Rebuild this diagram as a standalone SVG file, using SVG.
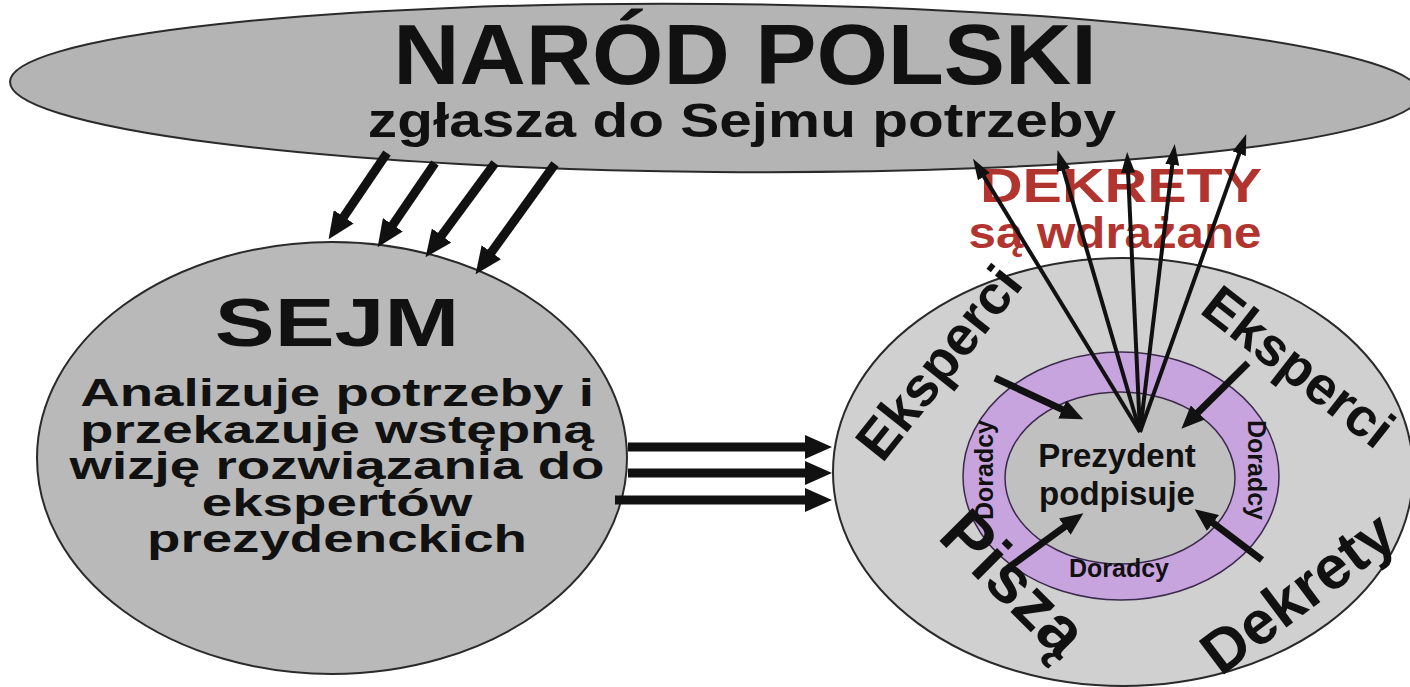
<svg xmlns="http://www.w3.org/2000/svg" width="1410" height="687" viewBox="0 0 1410 687">
  <style>
    .t { font-family: "Liberation Sans", Arial, sans-serif; font-weight: bold; fill: #111; text-anchor: middle; }
    .red { fill: #b2342e; }
    .shape { stroke: #2a2a2a; stroke-width: 2; }
    .thick { stroke: #111; stroke-width: 9; fill: none; marker-end: url(#ahBig); }
    .mid { stroke: #111; stroke-width: 7; fill: none; marker-end: url(#ahMid); }
    .thin { stroke: #111; stroke-width: 4; fill: none; marker-end: url(#ahThin); }
  </style>
  <defs>
    <marker id="ahBig" markerUnits="userSpaceOnUse" markerWidth="28" markerHeight="24" refX="2" refY="12" orient="auto">
      <path d="M0,0 L27,12 L0,24 z" fill="#111"/>
    </marker>
    <marker id="ahMid" markerUnits="userSpaceOnUse" markerWidth="24" markerHeight="20" refX="2" refY="10" orient="auto">
      <path d="M0,0 L23,10 L0,20 z" fill="#111"/>
    </marker>
    <marker id="ahThin" markerUnits="userSpaceOnUse" markerWidth="21" markerHeight="14" refX="2" refY="7" orient="auto">
      <path d="M0,0 L21,7 L0,14 z" fill="#111"/>
    </marker>
  </defs>
  <rect width="1410" height="687" fill="#ffffff"/>

  <g id="node-narod">
    <ellipse class="shape" cx="715" cy="88" rx="705" ry="84" fill="#b4b4b4" transform="rotate(0.5 715 88)"/>
    <text class="t" font-size="85" transform="translate(745 84) scale(1.08 1)">NARÓD POLSKI</text>
    <text class="t" font-size="48" transform="translate(742 137) scale(1.22 1)">zgłasza do Sejmu potrzeby</text>
  </g>

  <g id="node-sejm">
    <ellipse class="shape" cx="332" cy="458" rx="295" ry="216" fill="#b9b9b9"/>
    <text class="t" font-size="68" transform="translate(337 346) scale(1.32 1)">SEJM</text>
    <text class="t" font-size="38" transform="translate(337 406) scale(1.44 1)">Analizuje potrzeby i</text>
    <text class="t" font-size="38" transform="translate(337 442.5) scale(1.44 1)">przekazuje wstępną</text>
    <text class="t" font-size="38" transform="translate(337 479) scale(1.44 1)">wizję rozwiązania do</text>
    <text class="t" font-size="38" transform="translate(337 515.5) scale(1.44 1)">ekspertów</text>
    <text class="t" font-size="38" transform="translate(337 552) scale(1.44 1)">prezydenckich</text>
  </g>

  <g id="node-prezydent">
    <ellipse class="shape" cx="1123" cy="472" rx="290" ry="214" fill="#d0d0d0"/>
    <ellipse cx="1121" cy="476" rx="158" ry="124" fill="#c8a4de" stroke="#3a2a4a" stroke-width="1.5"/>
    <ellipse cx="1120" cy="478" rx="115" ry="86" fill="#c0c0c0" stroke="#3a2a4a" stroke-width="1.5"/>
    <text class="t" font-size="33" x="1117" y="467">Prezydent</text>
    <text class="t" font-size="33" x="1117" y="505">podpisuje</text>
    <text class="t" font-size="25" x="1119" y="577">Doradcy</text>
    <text class="t" font-size="25" transform="translate(993 470) rotate(-90)">Doradcy</text>
    <text class="t" font-size="25" transform="translate(1248 470) rotate(90)">Doradcy</text>
    <text class="t" font-size="55" dy="0.36em" transform="translate(938 362) rotate(-51.5)">Eksperci</text>
    <text class="t" font-size="54" dy="0.36em" transform="translate(1299 366) rotate(38)">Eksperci</text>
    <text class="t" font-size="68" dy="0.36em" transform="translate(1015 582) rotate(45)">Piszą</text>
    <text class="t" font-size="61" dy="0.36em" transform="translate(1297 592) rotate(-37)">Dekrety</text>
  </g>

  <g id="label-dekrety">
    <text class="t red" font-size="48" transform="translate(1121 202) scale(1.23 1)">DEKRETY</text>
    <text class="t red" font-size="44" transform="translate(1115 248) scale(1.12 1)">są wdrażane</text>
  </g>

  <g id="connectors">
    <line class="thick" x1="387" y1="153" x2="342.6" y2="218.5"/>
    <line class="thick" x1="435" y1="163" x2="391.7" y2="226.5"/>
    <line class="thick" x1="495" y1="163" x2="440.4" y2="237.1"/>
    <line class="thick" x1="555" y1="164" x2="490.2" y2="253.9"/>

    <line class="thick" x1="628" y1="447" x2="807" y2="447" stroke-width="8"/>
    <line class="thick" x1="628" y1="473" x2="807" y2="473" stroke-width="8"/>
    <line class="thick" x1="615" y1="500" x2="807" y2="500" stroke-width="8"/>

    <line class="thin" x1="1140" y1="432" x2="982.9" y2="174.9"/>
    <line class="thin" x1="1140" y1="432" x2="1062.9" y2="168.2"/>
    <line class="thin" x1="1140" y1="432" x2="1128" y2="170.9"/>
    <line class="thin" x1="1140" y1="432" x2="1172.5" y2="162.9"/>
    <line class="thin" x1="1140" y1="432" x2="1239.9" y2="151.8"/>

    <line class="mid" x1="995" y1="378" x2="1064.2" y2="410.3"/>
    <line class="mid" x1="1248" y1="363" x2="1196.4" y2="413.9"/>
    <line class="mid" x1="1008" y1="568" x2="1066.4" y2="525.5"/>
    <line class="mid" x1="1262" y1="560" x2="1211.4" y2="521.8"/>
  </g>
</svg>
